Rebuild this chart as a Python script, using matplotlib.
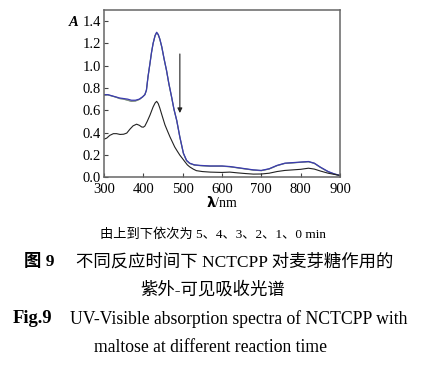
import matplotlib.pyplot as plt

plt.rcParams['font.family'] = ['Liberation Serif', 'Noto Sans CJK SC']

# wavelength (nm) / absorbance
wl_top = [300, 310, 320, 330, 340, 350, 360, 370, 380, 390, 398, 404, 408, 412,
          417, 421, 425, 430, 434, 438, 442, 447, 453, 459, 465, 472, 478, 485,
          493, 502, 510, 518, 530, 545, 570, 600, 620, 640, 660, 680, 700, 720,
          740, 760, 780, 800, 820, 835, 850, 870, 885, 900]
a_5min = [0.74, 0.74, 0.73, 0.72, 0.71, 0.705, 0.70, 0.69, 0.69, 0.70, 0.72, 0.74,
          0.78, 0.90, 1.02, 1.12, 1.20, 1.27, 1.30, 1.28, 1.24, 1.17, 1.06, 0.96,
          0.84, 0.72, 0.61, 0.51, 0.36, 0.215, 0.15, 0.125, 0.11, 0.105, 0.10,
          0.10, 0.095, 0.085, 0.075, 0.065, 0.06, 0.075, 0.105, 0.125, 0.13,
          0.135, 0.14, 0.125, 0.09, 0.05, 0.03, 0.015]
a_1to4min = [0.735, 0.738, 0.728, 0.718, 0.705, 0.70, 0.69, 0.68, 0.683, 0.697, 0.718, 0.74,
             0.78, 0.90, 1.02, 1.12, 1.20, 1.27, 1.295, 1.278, 1.238, 1.168, 1.058, 0.958,
             0.838, 0.718, 0.608, 0.508, 0.358, 0.213, 0.148, 0.123, 0.108, 0.103, 0.098,
             0.098, 0.093, 0.083, 0.073, 0.063, 0.058, 0.073, 0.103, 0.123, 0.128,
             0.133, 0.138, 0.123, 0.088, 0.048, 0.028, 0.013]

wl_0 = [300, 307, 315, 324, 332, 341, 350, 358, 366, 374, 383, 390, 396, 400, 404,
        410, 417, 425, 430, 434, 438, 442, 448, 455, 462, 468, 474, 480, 487, 493,
        500, 506, 512, 518, 527, 535, 550, 570, 600, 620, 640, 660, 680, 700, 720,
        740, 760, 780, 800, 820, 835, 850, 870, 885, 900]
a_0min = [0.34, 0.35, 0.375, 0.39, 0.39, 0.383, 0.385, 0.395, 0.43, 0.46, 0.475,
          0.465, 0.45, 0.448, 0.458, 0.50, 0.556, 0.63, 0.665, 0.68, 0.66, 0.62,
          0.55, 0.47, 0.41, 0.36, 0.315, 0.27, 0.23, 0.197, 0.165, 0.137, 0.11,
          0.092, 0.072, 0.058, 0.05, 0.045, 0.042, 0.045, 0.038, 0.032, 0.027,
          0.028, 0.035, 0.05, 0.06, 0.065, 0.07, 0.08, 0.072, 0.055, 0.035,
          0.025, 0.015]

fig = plt.figure(figsize=(4.26, 3.69), dpi=100)
ax = fig.add_axes([0.244, 0.520, 0.554, 0.453])

ax.plot(wl_top, a_1to4min, color='#7aa87a', lw=0.9)
ax.plot(wl_top, a_1to4min, color='#888888', lw=0.7)
ax.plot(wl_top, a_5min, color='#3b3bb0', lw=0.9)
ax.plot(wl_0, a_0min, color='#222222', lw=0.8)

ax.annotate('', xy=(493, 0.55), xytext=(493, 1.13),
            arrowprops=dict(arrowstyle='-|>', color='#222222', lw=0.8,
                            mutation_scale=7))

ax.set_xlim(300, 900)
ax.set_ylim(0, 1.5)
ax.set_xticks(range(300, 901, 100))
ax.set_yticks([0.0, 0.2, 0.4, 0.6, 0.8, 1.0, 1.2, 1.4])
ax.set_yticklabels(['0.0', '0.2', '0.4', '0.6', '0.8', '1.0', '1.2', '1.4'])
ax.tick_params(direction='in', length=3, width=0.8, labelsize=10.5, pad=2,
               color='#444444')
ax.tick_params(axis='x', pad=4)
for s in ax.spines.values():
    s.set_color('#666666')
    s.set_linewidth(1.1)

fig.text(0.172, 0.94, 'A', fontsize=10.5, style='italic', fontweight='bold',
         ha='center', va='center')
fig.text(0.521, 0.452, r'$\boldsymbol{\lambda}$/nm', fontsize=10, ha='center',
         va='center')

fig.text(0.5, 0.363, '由上到下依次为 5、4、3、2、1、0 min', fontsize=9.5,
         ha='center', va='center')
fig.text(0.056, 0.290, '图 9', fontsize=12.5, fontweight='bold', ha='left',
         va='center')
fig.text(0.55, 0.290, '不同反应时间下 NCTCPP 对麦芽糖作用的', fontsize=12.5,
         ha='center', va='center')
fig.text(0.5, 0.214, '紫外-可见吸收光谱', fontsize=12.5, ha='center', va='center')
fig.text(0.03, 0.136, 'Fig.9', fontsize=13.3, fontweight='bold', ha='left',
         va='center')
fig.text(0.56, 0.136, 'UV-Visible absorption spectra of NCTCPP with',
         fontsize=12.7, ha='center', va='center')
fig.text(0.493, 0.057, 'maltose at different reaction time', fontsize=12.7,
         ha='center', va='center')

fig.savefig('out.png', dpi=100)
